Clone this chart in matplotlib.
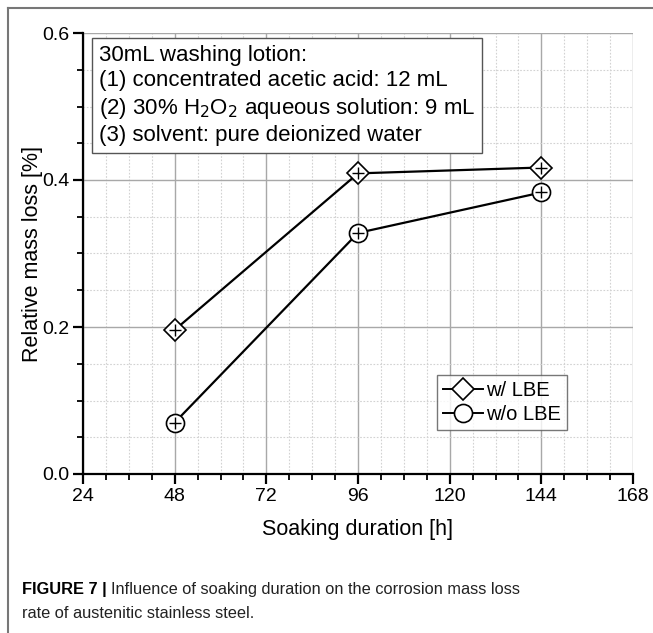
import matplotlib
matplotlib.use("Agg")
import matplotlib.pyplot as plt
from matplotlib.lines import Line2D
from matplotlib.ticker import MultipleLocator

plt.rcParams['font.family'] = ['Liberation Sans', 'DejaVu Sans']

hours = [48, 96, 144]
with_lbe = [0.196, 0.409, 0.417]
without_lbe = [0.070, 0.328, 0.383]
series_labels = ["w/ LBE", "w/o LBE"]
x_ticks = [24, 48, 72, 96, 120, 144, 168]
y_ticks = [0.0, 0.2, 0.4, 0.6]
box_lines = ["30mL washing lotion:",
             "(1) concentrated acetic acid: 12 mL",
             r"(2) 30% H$_2$O$_2$ aqueous solution: 9 mL",
             "(3) solvent: pure deionized water"]

W, H = 653, 633
fig = plt.figure(figsize=(W / 100, H / 100), dpi=100)
ax = fig.add_axes([83 / W, 1 - 474 / H, 550 / W, 441 / H])

ax.set_xlim(24, 168)
ax.set_ylim(0, 0.6)
ax.set_xticks(x_ticks)
ax.set_yticks(y_ticks)
ax.set_yticklabels([f"{v:.1f}" for v in y_ticks])
ax.xaxis.set_minor_locator(MultipleLocator(6))
ax.yaxis.set_minor_locator(MultipleLocator(0.05))
ax.grid(which='major', color='#a8a8a8', lw=1.0, ls='-')
ax.grid(which='minor', color='#d2d2d2', lw=0.8, ls=(0, (1.5, 1.5)))
ax.set_axisbelow(True)
for s in ['top', 'right']:
    ax.spines[s].set_visible(False)
for s in ['left', 'bottom']:
    ax.spines[s].set_linewidth(1.6)
ax.tick_params(which='major', direction='out', length=7, width=1.6, labelsize=14, pad=3)
ax.tick_params(which='minor', direction='out', length=4, width=1.3)

ms_d = 11.5
ms_o = 13
ax.plot(hours, with_lbe, color='black', lw=1.6, marker='D', ms=ms_d,
        mfc='white', mec='black', mew=1.2, zorder=3)
ax.plot(hours, with_lbe, ls='none', marker='+', ms=9, mec='black', mew=1.0, zorder=4)
ax.plot(hours, without_lbe, color='black', lw=1.6, marker='o', ms=ms_o,
        mfc='white', mec='black', mew=1.2, zorder=3)
ax.plot(hours, without_lbe, ls='none', marker='+', ms=9, mec='black', mew=1.0, zorder=4)

ax.set_xlabel("Soaking duration [h]", fontsize=15.5, labelpad=10)
ax.set_ylabel("Relative mass loss [%]", fontsize=15.5, labelpad=-1)

handles = [Line2D([], [], color='black', lw=1.4, marker='D', ms=ms_d, mfc='white', mec='black', mew=1.2),
           Line2D([], [], color='black', lw=1.4, marker='o', ms=ms_o, mfc='white', mec='black', mew=1.2)]
leg = ax.legend(handles, series_labels, loc='lower right',
                bbox_to_anchor=(567 / W, 1 - 430 / H), bbox_transform=fig.transFigure,
                fontsize=14.5, frameon=True, fancybox=False, edgecolor='#555555',
                handlelength=2.0, handletextpad=0.15, borderpad=0.3, labelspacing=0.25,
                borderaxespad=0.0)
leg.get_frame().set_linewidth(1.0)

ax.text((99 - 83) / 550, 1 - (45 - 33) / 441, "\n".join(box_lines), transform=ax.transAxes,
        ha='left', va='top', fontsize=16, linespacing=1.27,
        bbox=dict(boxstyle='square,pad=0.3', fc='white', ec='#555555', lw=1.0), zorder=5)

# outer frame lines
fig.add_artist(Line2D([8 / W, 1], [1 - 8 / H, 1 - 8 / H], transform=fig.transFigure,
                      color='#777777', lw=1.5))
fig.add_artist(Line2D([8 / W, 8 / W], [0, 1 - 8 / H], transform=fig.transFigure,
                      color='#777777', lw=1.5))

cap_family = ['Liberation Sans Narrow', 'Liberation Sans', 'DejaVu Sans']
t1 = fig.text(22 / W, 1 - 594 / H, "FIGURE 7 |", fontsize=11.8, fontweight='bold', family=cap_family,
              ha='left', va='baseline')
fig.canvas.draw()
bb = t1.get_window_extent(renderer=fig.canvas.get_renderer())
fig.text((bb.x1 + 4) / W, 1 - 594 / H, "Influence of soaking duration on the corrosion mass loss",
         fontsize=11.8, family=cap_family, ha='left', va='baseline', color='#222222')
fig.text(22 / W, 1 - 618 / H, "rate of austenitic stainless steel.",
         fontsize=11.8, family=cap_family, ha='left', va='baseline', color='#222222')

fig.savefig("out.png", dpi=100)
